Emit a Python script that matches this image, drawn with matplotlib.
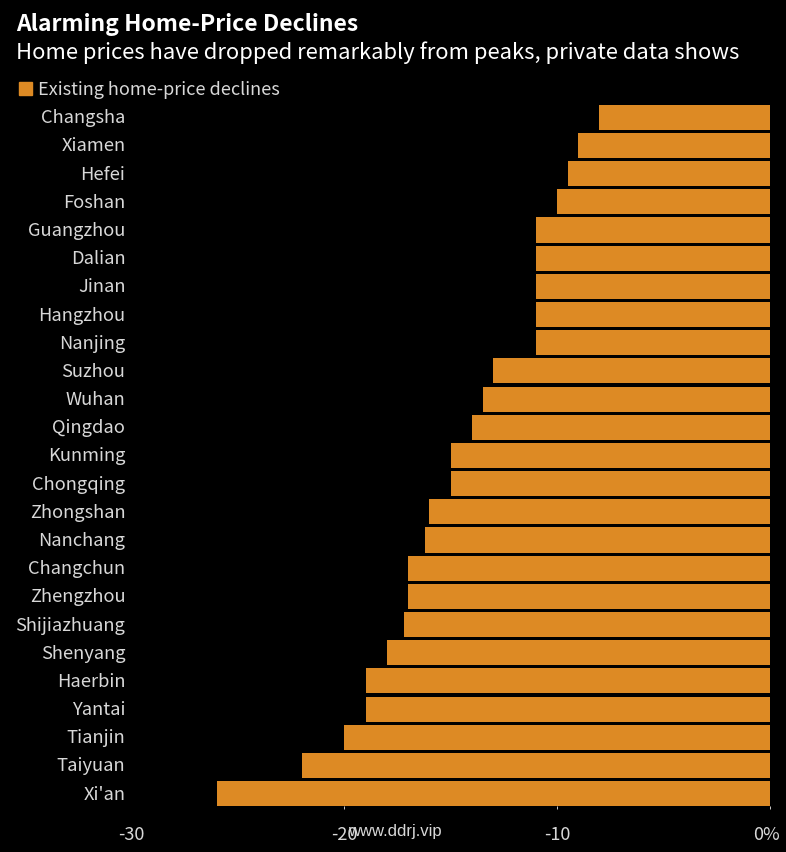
import matplotlib
matplotlib.use("Agg")
import matplotlib.pyplot as plt
from matplotlib.patches import Rectangle
from matplotlib.transforms import ScaledTranslation

cities = ["Changsha","Xiamen","Hefei","Foshan","Guangzhou","Dalian","Jinan","Hangzhou","Nanjing","Suzhou","Wuhan","Qingdao","Kunming","Chongqing","Zhongshan","Nanchang","Changchun","Zhengzhou","Shijiazhuang","Shenyang","Haerbin","Yantai","Tianjin","Taiyuan","Xi'an"]
declines = [-8,-9,-9.5,-10,-11,-11,-11,-11,-11,-13,-13.5,-14,-15,-15,-16,-16.2,-17,-17,-17.2,-18,-19,-19,-20,-22,-26]
xticks = [-30,-20,-10,0]
xticklabels = ["-30","-20","-10","0%"]

W,H = 786,853
plt.rcParams['font.family'] = ['Noto Sans CJK SC','Noto Sans','DejaVu Sans']
fig = plt.figure(figsize=(W/100,H/100),dpi=100,facecolor='black')
ax = fig.add_axes([131.6/W,1-807.2/H,638/W,(807.2-105.7)/H],facecolor='black')
ax.barh(range(len(cities)),declines,height=0.89,color='#dd8a24')
ax.set_ylim(24.445,-0.445)
ax.set_xlim(-30,0)
ax.set_yticks(range(len(cities)),cities,color='#d8d8d8',fontsize=13.2)
ax.set_xticks(xticks,xticklabels,color='#d8d8d8',fontsize=13)
ax.tick_params(axis='y',length=0,pad=4.5)
ax.tick_params(axis='x',length=2.5,color='#cccccc',width=0.7,pad=11)
for lab in ax.get_yticklabels():
    lab.set_transform(lab.get_transform()+ScaledTranslation(0,2/100,fig.dpi_scale_trans))
ax.get_xticklabels()[-1].set_transform(ax.get_xticklabels()[-1].get_transform()+ScaledTranslation(-3/100,0,fig.dpi_scale_trans))
ax.xaxis.get_major_ticks()[0].tick1line.set_visible(False)
for s in ['top','left','right','bottom']:
    ax.spines[s].set_visible(False)
fig.text(16/W,1-25/H,"Alarming Home-Price Declines",color='white',fontsize=16.5,fontweight='bold',va='center')
fig.text(16/W,1-53/H,"Home prices have dropped remarkably from peaks, private data shows",color='white',fontsize=15.85,va='center')
fig.add_artist(Rectangle((19/W,1-96/H),13/W,13/H,color='#dd8a24',transform=fig.transFigure))
fig.text(38/W,1-90/H,"Existing home-price declines",color='#d8d8d8',fontsize=13,va='center')
fig.text(395/W,1-832/H,"www.ddrj.vip",color='#d8d8d8',fontsize=12,family='Liberation Sans',ha='center',va='center')
fig.savefig('out.png',dpi=100,facecolor='black')
